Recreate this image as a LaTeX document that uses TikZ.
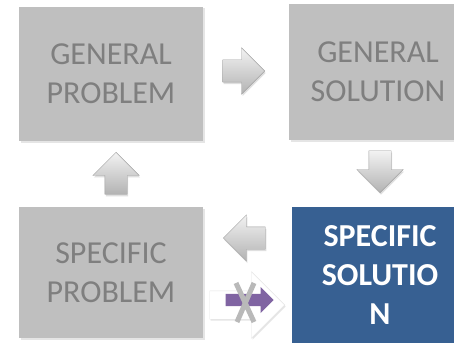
\documentclass[tikz,border=0pt]{standalone}
\usepackage{fontspec}
\setmainfont{Carlito}
\usetikzlibrary{shapes.arrows,shadows}
\definecolor{boxgray}{HTML}{BFBFBF}
\definecolor{txtgray}{HTML}{7F7F7F}
\definecolor{blueSS}{HTML}{376092}
\definecolor{purp}{HTML}{8064A2}
\begin{document}
\begin{tikzpicture}[x=1pt,y=-1pt,
 box/.style={fill=boxgray, text=txtgray, font=\fontsize{32}{39}\selectfont, align=center, inner sep=0pt,
   drop shadow={opacity=0.2,shadow xshift=1.5pt,shadow yshift=-1.5pt}},
 barrow/.style={single arrow, draw=gray!75, top color=gray!10, bottom color=gray!60,
   inner xsep=0pt, inner ysep=11pt, single arrow head extend=12pt, minimum height=42pt,
   drop shadow={opacity=0.25,shadow xshift=1pt,shadow yshift=-2pt}},
 varrow/.style={barrow, inner xsep=11pt, inner ysep=0pt}]
\useasboundingbox (0,0) rectangle (454,342);
\clip (0,0) rectangle (454,342);
\fill[white] (0,0) rectangle (454,342);
% boxes
\node[box, minimum width=184pt, minimum height=134pt] (gp) at (111,74) {GENERAL\\PROBLEM};
\node[box, minimum width=178pt, minimum height=136pt] (gs) at (378,72) {GENERAL\\SOLUTION};
\node[box, minimum width=184pt, minimum height=131pt] (sp) at (111,272.5) {SPECIFIC\\PROBLEM};
\node[box, fill=blueSS, text=white, font=\fontsize{32}{39}\selectfont\bfseries, minimum width=176pt, minimum height=136pt] (ss) at (380,275) {SPECIFIC\\SOLUTIO\\N};
% block arrows
\node[barrow, anchor=tip] (a1) at (265,71) {};
\node[varrow, shape border rotate=270, anchor=tip] (a2) at (380,193) {};
\node[barrow, shape border rotate=180, anchor=tip] (a3) at (223,238) {};
\node[varrow, shape border rotate=90, anchor=tip] (a4) at (116,152) {};
% crossed arrow
\node[single arrow, fill=white, draw=gray!20, inner xsep=0pt, inner ysep=14pt,
  single arrow head extend=19pt, minimum height=75pt, anchor=tip,
  drop shadow={opacity=0.2,shadow xshift=1pt,shadow yshift=-1.5pt}] (wa) at (285,305) {};
\node[single arrow, fill=purp, inner xsep=0pt, inner ysep=6pt,
  single arrow head extend=7pt, minimum height=48pt, anchor=tip] (pa) at (274,300) {};
\coordinate (x1) at (236,283);
\coordinate (x2) at (254,322);
\coordinate (x3) at (254,283);
\coordinate (x4) at (237,322);
\draw[gray!55, line width=5pt] (x1) -- (x2) (x3) -- (x4);
\end{tikzpicture}
\end{document}
